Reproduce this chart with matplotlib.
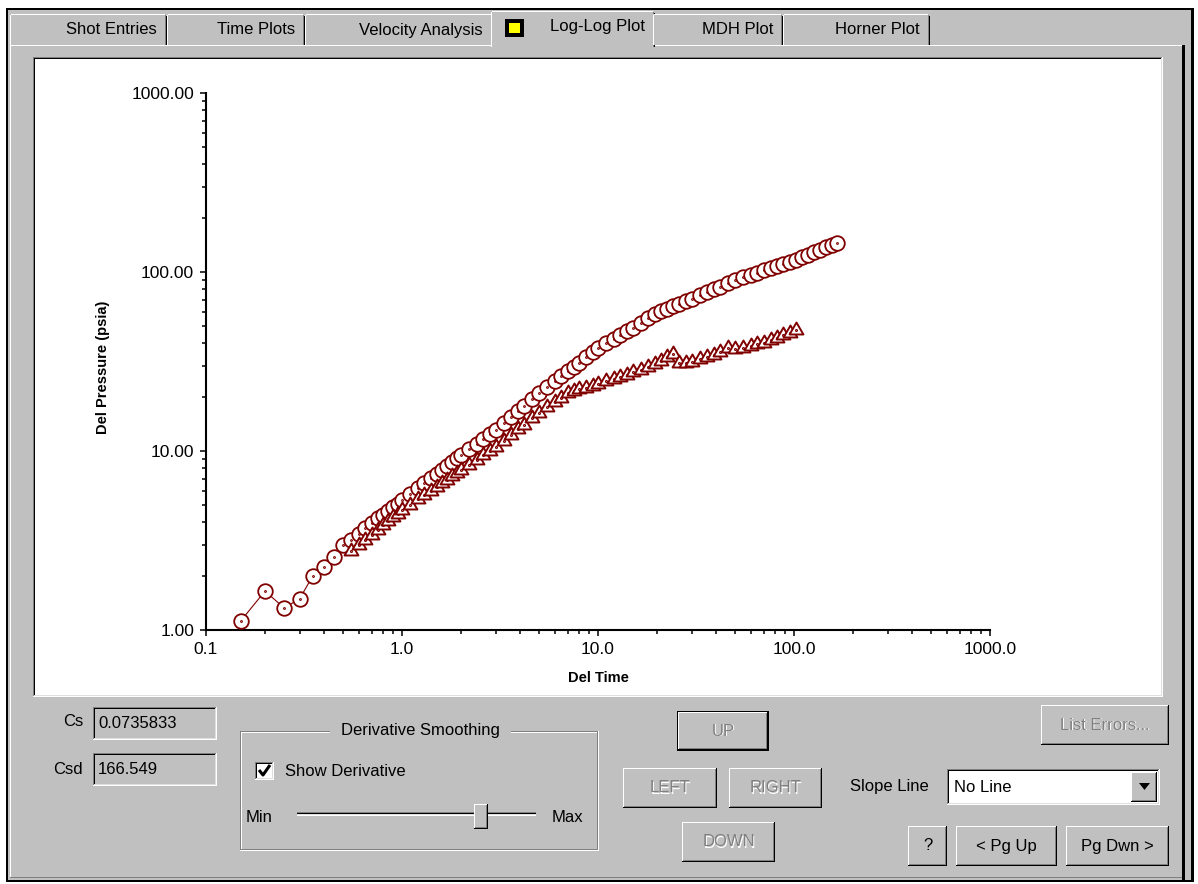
import matplotlib
matplotlib.use("Agg")
import matplotlib.pyplot as plt
from matplotlib.patches import Rectangle, Polygon
from matplotlib.path import Path
from matplotlib import font_manager

# ---- data ----
del_time = [0.15, 0.20, 0.25, 0.30, 0.35, 0.40, 0.45, 0.50, 0.55, 0.60, 0.65, 0.70,
            0.75, 0.80, 0.85, 0.90, 0.95, 1.0, 1.1, 1.2, 1.3, 1.4, 1.5, 1.6, 1.7, 1.8,
            1.9, 2.0, 2.2, 2.4, 2.6, 2.8, 3.0, 3.3, 3.6, 3.9, 4.2, 4.6, 5.0, 5.5, 6.0,
            6.5, 7.0, 7.5, 8.0, 8.7, 9.4, 10, 11, 12, 13, 14, 15, 16.5, 18, 19.5, 21,
            22.5, 24, 26, 28, 30, 33, 36, 39, 42, 46, 50, 55, 60, 65, 70, 76, 82, 88,
            95, 102, 110, 118, 127, 136, 146, 156, 165]
del_pressure = [1.12, 1.65, 1.33, 1.49, 2.0, 2.25, 2.55, 2.98, 3.2, 3.45, 3.7, 3.95,
                4.2, 4.4, 4.6, 4.85, 5.05, 5.3, 5.74, 6.18, 6.61, 7.03, 7.45, 7.87, 8.28,
                8.68, 9.09, 9.5, 10.24, 10.97, 11.69, 12.39, 13.1, 14.3, 15.5, 16.7,
                17.9, 19.5, 21.1, 22.8, 24.5, 26.2, 27.9, 29.5, 31.2, 33.4, 35.6, 37.6,
                40.0, 42.3, 44.6, 46.8, 48.9, 52.1, 55.1, 58.0, 60.2, 62.2, 64.6, 66.4,
                68.7, 71.0, 74.2, 77.2, 80.1, 82.9, 86.4, 90.0, 93.2, 96.3, 99.2, 102.0,
                105.1, 108.1, 111.0, 114.1, 117.0, 121.1, 125.0, 129.2, 133.2, 137.6,
                141.7, 145.0]

deriv_time = [0.55, 0.60, 0.65, 0.70, 0.75, 0.80, 0.85, 0.90, 0.95, 1.0, 1.1, 1.2, 1.3,
              1.4, 1.5, 1.6, 1.7, 1.8, 1.9, 2.0, 2.2, 2.4, 2.6, 2.8, 3.0, 3.3, 3.6, 3.9,
              4.2, 4.6, 5.0, 5.5, 6.0, 6.5, 7.0, 7.5, 8.0, 8.7, 9.4, 10, 11, 12, 13, 14,
              15, 16.5, 18, 19.5, 21, 22.5, 24, 26, 28, 30, 33, 36, 39, 42, 46, 50, 55,
              60, 65, 70, 76, 82, 88, 95, 102]
deriv_pressure = [2.75, 2.97, 3.19, 3.41, 3.62, 3.84, 4.05, 4.26, 4.47, 4.68, 5.02, 5.36,
                  5.68, 6.0, 6.32, 6.63, 6.93, 7.23, 7.53, 7.8, 8.36, 8.91, 9.45, 9.97,
                  10.5, 11.4, 12.3, 13.2, 14.0, 15.2, 16.3, 17.5, 18.7, 19.8, 21.0, 21.6,
                  22.1, 22.6, 23.1, 23.6, 24.5, 25.3, 26.0, 26.7, 27.5, 28.5, 29.5, 30.5,
                  31.8, 33.5, 35.0, 31.0, 31.2, 31.5, 32.5, 33.5, 34.5, 35.8, 37.5, 37.2,
                  37.8, 38.6, 39.4, 40.3, 41.5, 42.8, 44.2, 45.8, 47.6]

x_ticks = [0.1, 1, 10, 100, 1000]
x_tick_labels = ["0.1", "1.0", "10.0", "100.0", "1000.0"]
y_ticks = [1, 10, 100, 1000]
y_tick_labels = ["1.00", "10.00", "100.00", "1000.00"]

tab_names = ["Shot Entries", "Time Plots", "Velocity Analysis", "Log-Log Plot",
             "MDH Plot", "Horner Plot"]
cs_value = "0.0735833"
csd_value = "166.549"
slope_choice = "No Line"

# ---- colours / fonts ----
FACE = "#c0c0c0"
LIGHT = "#dfdfdf"
SHADOW = "#808080"
WHITE = "#ffffff"
BLACK = "#000000"
RED = "#800000"

names = {f.name for f in font_manager.fontManager.ttflist}
if "Liberation Sans Narrow" in names:
    UI_FONT, UI_SIZE = "Liberation Sans Narrow", 13.5
else:
    UI_FONT, UI_SIZE = "Liberation Sans", 12

W, H = 1198, 884
fig = plt.figure(figsize=(W / 100, H / 100), dpi=100)
fig.patch.set_facecolor("white")

ui = fig.add_axes([0, 0, 1, 1])
ui.set_xlim(0, W)
ui.set_ylim(H, 0)
ui.axis("off")


def box(x0, y0, x1, y1, c, z=1):
    ui.add_patch(Rectangle((x0, y0), x1 - x0, y1 - y0, facecolor=c,
                           edgecolor="none", lw=0, zorder=z))


def raised(x0, y0, x1, y1, z=1):
    box(x0, y0, x1, y1, FACE, z)
    box(x0, y0, x1, y0 + 1, WHITE, z)
    box(x0, y0, x0 + 1, y1, WHITE, z)
    box(x0, y1 - 1, x1, y1, BLACK, z)
    box(x1 - 1, y0, x1, y1, BLACK, z)
    box(x0 + 1, y1 - 2, x1 - 1, y1 - 1, SHADOW, z)
    box(x1 - 2, y0 + 1, x1 - 1, y1 - 1, SHADOW, z)


def sunken(x0, y0, x1, y1, fc, z=1):
    box(x0, y0, x1, y1, fc, z)
    box(x0, y0, x1, y0 + 1, SHADOW, z)
    box(x0, y0, x0 + 1, y1, SHADOW, z)
    box(x0 + 1, y0 + 1, x1 - 1, y0 + 2, BLACK, z)
    box(x0 + 1, y0 + 1, x0 + 2, y1 - 1, BLACK, z)
    box(x0, y1 - 1, x1, y1, WHITE, z)
    box(x1 - 1, y0, x1, y1, WHITE, z)
    box(x0 + 1, y1 - 2, x1 - 1, y1 - 1, LIGHT, z)
    box(x1 - 2, y0 + 1, x1 - 1, y1 - 1, LIGHT, z)


def label(x, y, s, ha="left", enabled=True, size=None, z=3):
    size = size or UI_SIZE
    if not enabled:
        ui.text(x + 1, y + 1, s, ha=ha, va="center", color=WHITE,
                family=UI_FONT, fontsize=size, zorder=z)
        ui.text(x, y, s, ha=ha, va="center", color=SHADOW,
                family=UI_FONT, fontsize=size, zorder=z)
    else:
        ui.text(x, y, s, ha=ha, va="center", color=BLACK,
                family=UI_FONT, fontsize=size, zorder=z)


def button(x0, y0, x1, y1, s, enabled=True, default=False):
    if default:
        box(x0, y0, x1, y1, BLACK)
        raised(x0 + 1, y0 + 1, x1 - 1, y1 - 1)
    else:
        raised(x0, y0, x1, y1)
    label((x0 + x1) / 2, (y0 + y1) / 2, s, ha="center", enabled=enabled)


# ---- dialog frame ----
box(6, 8, 1194, 882, FACE)
box(6, 8, 1194, 10, BLACK)
box(6, 8, 8, 882, BLACK)
box(6, 880, 1194, 882, BLACK)
box(1182, 45, 1185, 880, BLACK)
box(1191, 8, 1194, 882, BLACK)
box(10, 45, 1182, 46, WHITE)
box(10, 45, 11, 878, WHITE)
box(10, 877, 1182, 878, SHADOW)

# ---- tabs ----
tab_edges = [10, 167, 305, 493, 653, 783, 930]
for i, name in enumerate(tab_names):
    x0, x1 = tab_edges[i], tab_edges[i + 1]
    sel = name == "Log-Log Plot"
    y0 = 11 if sel else 14
    y1 = 47 if sel else 45
    if sel:
        x0 -= 2
        x1 += 2
    box(x0, y0, x1, y1, FACE, 2)
    box(x0 + 1, y0, x1 - 2, y0 + 1, WHITE, 2)
    box(x0, y0 + 1, x0 + 1, y1, WHITE, 2)
    box(x1 - 2, y0 + 1, x1 - 1, y1, SHADOW, 2)
    box(x1 - 1, y0 + 2, x1, y1, BLACK, 2)
    label(x1 - 10, 30 if not sel else 27, name, ha="right", z=4)
    if sel:
        box(505, 19, 524, 37, BLACK, 3)
        box(509, 23, 520, 33, "#ffff00", 3)

# ---- plot panel ----
sunken(33, 57, 1163, 697, WHITE)

ax = fig.add_axes([206 / W, (H - 630) / H, 784 / W, 537 / H])
ax.set_facecolor("none")
ax.set_xscale("log")
ax.set_yscale("log")
ax.set_xlim(0.1, 1000)
ax.set_ylim(1, 1000)
for side in ("top", "right"):
    ax.spines[side].set_visible(False)
for side in ("left", "bottom"):
    ax.spines[side].set_linewidth(1.5)
ax.set_xticks(x_ticks, x_tick_labels)
ax.set_yticks(y_ticks, y_tick_labels)
ax.tick_params(which="major", direction="out", length=4.5, width=1.1,
               labelsize=12.5, pad=4, colors=BLACK)
ax.tick_params(which="minor", direction="out", length=3, width=1.1)
ax.xaxis.set_minor_formatter(plt.NullFormatter())
ax.yaxis.set_minor_formatter(plt.NullFormatter())
for t in ax.get_xticklabels() + ax.get_yticklabels():
    t.set_family("Liberation Sans")
ax.set_xlabel("Del Time", fontsize=10.5, fontweight="bold", family="Liberation Sans")
ax.set_ylabel("Del Pressure (psia)", fontsize=10.5, fontweight="bold",
              family="Liberation Sans")
ax.xaxis.set_label_coords(0.5, -0.076)
ax.yaxis.set_label_coords(-0.122, 0.49)

dot = Path.circle((0, 0), 0.07)
circ_marker = Path.make_compound_path(Path.unit_circle(), dot)
tri_marker = Path.make_compound_path(Path.unit_regular_polygon(3), dot)

ax.plot(del_time, del_pressure, "-", color=RED, lw=0.8, marker=circ_marker,
        ms=10.5, mfc=WHITE, mec=RED, mew=1.3, zorder=3, clip_on=False)
ax.plot(deriv_time, deriv_pressure, "-", color=RED, lw=0.8, marker=tri_marker,
        ms=11.5, mfc=WHITE, mec=RED, mew=1.4, zorder=4, clip_on=False)

# ---- Cs / Csd ----
label(83, 722, "Cs", ha="right")
sunken(93, 707, 217, 740, FACE)
label(98, 723, cs_value)
label(83, 770, "Csd", ha="right")
sunken(93, 753, 217, 786, FACE)
label(98, 770, csd_value)

# ---- derivative smoothing group ----
box(240, 731, 598, 732, SHADOW)
box(240, 732, 598, 733, WHITE)
box(240, 731, 241, 850, SHADOW)
box(241, 732, 242, 850, WHITE)
box(240, 849, 598, 850, SHADOW)
box(240, 850, 599, 851, WHITE)
box(597, 731, 598, 850, SHADOW)
box(598, 731, 599, 851, WHITE)
box(330, 722, 511, 742, FACE, 2)
label(420, 731, "Derivative Smoothing", ha="center")

sunken(255, 762, 274, 780, WHITE)
ui.plot([259, 263, 270], [770, 775, 765], color=BLACK, lw=2.2, zorder=4,
        solid_capstyle="butt")
label(285, 771, "Show Derivative")

label(246, 817, "Min")
label(552, 817, "Max")
box(297, 812, 536, 813, SHADOW)
box(297, 813, 536, 814, BLACK)
box(297, 814, 536, 815, LIGHT)
box(297, 815, 536, 816, WHITE)
raised(474, 804, 488, 829, 3)

# ---- navigation buttons ----
button(677, 711, 769, 751, "UP", enabled=False, default=True)
button(623, 768, 717, 808, "LEFT", enabled=False)
button(729, 768, 822, 808, "RIGHT", enabled=False)
button(682, 822, 775, 862, "DOWN", enabled=False)
button(1041, 705, 1169, 745, "List Errors...", enabled=False)

label(850, 787, "Slope Line")
sunken(947, 769, 1160, 805, WHITE)
label(954, 787, slope_choice)
raised(1131, 772, 1157, 802, 2)
ui.add_patch(Polygon([[1139, 783], [1150, 783], [1144.5, 790]], closed=True,
                     facecolor=BLACK, edgecolor="none", zorder=3))

button(908, 826, 947, 866, "?")
button(956, 826, 1057, 866, "< Pg Up")
button(1066, 826, 1169, 866, "Pg Dwn >")

fig.savefig("out.png", dpi=100, facecolor=fig.get_facecolor())
